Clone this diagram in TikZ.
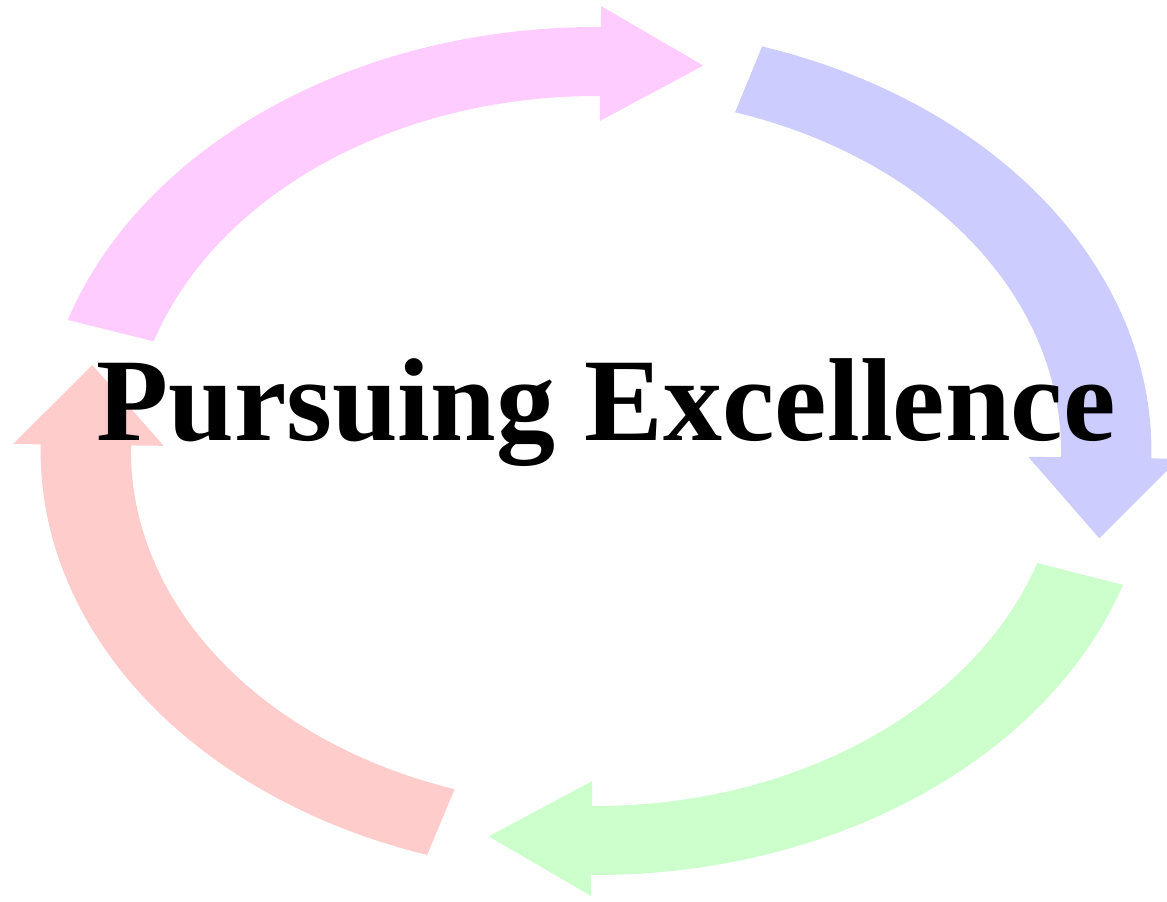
\documentclass[tikz,border=0pt]{standalone}
\usepackage{fontspec}
\setmainfont{Liberation Serif}
\definecolor{apink}{RGB}{255,204,255}
\definecolor{ablue}{RGB}{204,204,255}
\definecolor{agreen}{RGB}{204,255,204}
\definecolor{ared}{RGB}{255,204,204}
% #1 tail angle, #2 head base angle, #3 tip angle, #4 colour
\newcommand{\cyclearrow}[4]{%
  \fill[#4] plot[domain=#1:#2,samples=60] (\x:424)
    -- (#2:445) -- (#3:394) -- (#2:330) --
    plot[domain=#2:#1,samples=60] (\x:355) -- cycle;}
\begin{document}
\begin{tikzpicture}[x=1pt,y=1pt]
\useasboundingbox (0,-902) rectangle (1167,0);
\begin{scope}[shift={(596,-451)},xscale=1.31]
  \cyclearrow{162}{89.5}{78}{apink}
  \cyclearrow{72.6}{-1}{-12.8}{ablue}
  \cyclearrow{-18.4}{-90.5}{-102}{agreen}
  \cyclearrow{252.3}{179.1}{167.4}{ared}
\end{scope}
\node[anchor=base,inner sep=0pt,font=\fontsize{118}{120}\selectfont\bfseries] (title) at (606,-440) {Pursuing Excellence};
\end{tikzpicture}
\end{document}
